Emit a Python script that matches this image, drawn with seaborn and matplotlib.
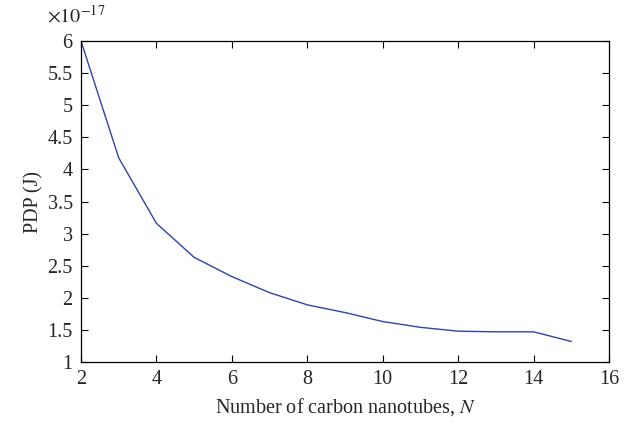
import numpy as np
import pandas as pd
import matplotlib.pyplot as plt
import matplotlib.ticker as mticker
import seaborn as sns

n_tubes = [2, 3, 4, 5, 6, 7, 8, 9, 10, 11, 12, 13, 14, 15]
pdp_e17 = [6.0, 4.18, 3.16, 2.63, 2.33, 2.08, 1.89, 1.77, 1.63, 1.54, 1.48, 1.47, 1.47, 1.32]

df = pd.DataFrame({"N": n_tubes, "PDP": np.array(pdp_e17) * 1e-17})

sns.set_theme(style="ticks")
plt.rcParams['font.family'] = ['Liberation Serif', 'DejaVu Serif']
plt.rcParams['mathtext.fontset'] = 'stix'

fig = plt.figure(figsize=(6.38, 4.23), dpi=100)
ax = fig.add_axes([81/638, 1 - 362/423, 528/638, 321/423])

sns.lineplot(data=df, x="N", y="PDP", ax=ax, color="#2f45a6", linewidth=1.0)

ax.set_xlim(2, 16)
ax.set_ylim(1e-17, 6e-17)
ax.set_xticks(range(2, 17, 2))
ax.set_yticks(np.arange(1, 6.01, 0.5) * 1e-17)
ax.yaxis.set_major_formatter(mticker.FuncFormatter(lambda v, p: f"{v / 1e-17:g}"))

ax.text(-0.064, 1.045, "$\\times10^{-17}$", transform=ax.transAxes,
        fontsize=14.5, ha="left", va="bottom")

ax.tick_params(direction="in", top=True, right=True, labelsize=14.5, length=5,
               width=0.8, color="black", pad=6)
for s in ax.spines.values():
    s.set_visible(True)
    s.set_color("black")
    s.set_linewidth(0.9)

ax.set_xlabel("Number of carbon nanotubes, $\\mathit{N}$", fontsize=14.5, labelpad=5)
ax.set_ylabel("PDP (J)", fontsize=14.5, labelpad=3)

fig.savefig("out.png", dpi=100)
